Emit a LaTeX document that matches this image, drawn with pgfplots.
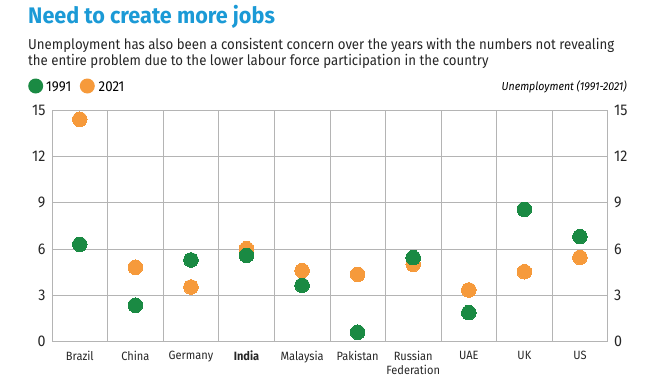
\documentclass[border=0pt]{standalone}
\usepackage{pgfplots}
\pgfplotsset{compat=1.18}
\usepackage{fontspec}
\setmainfont{Fira Sans}[FakeStretch=0.92]
\newfontfamily\titlefont{Fira Sans}[FakeStretch=0.96]
\definecolor{tblue}{HTML}{1B9AD6}
\definecolor{cgreen}{HTML}{1A8A43}
\definecolor{corange}{HTML}{F69A3B}
\definecolor{gridc}{HTML}{B4B4B4}
\begin{document}
\begin{tikzpicture}[x=1bp,y=1bp]
\path[use as bounding box] (0,0) rectangle (660,383);
% title and subtitle
\node[anchor=base west,inner sep=0,text=tblue,font=\fontsize{22.5bp}{26bp}\titlefont\bfseries] at (28,383-23) {Need to create more jobs};
\node[anchor=base west,inner sep=0,text=black!85,font=\fontsize{14.4bp}{16bp}\selectfont] at (28,383-49.5) {Unemployment has also been a consistent concern over the years with the numbers not revealing};
\node[anchor=base west,inner sep=0,text=black!85,font=\fontsize{14.4bp}{16bp}\selectfont] at (28,383-65.5) {the entire problem due to the lower labour force participation in the country};
% legend
\fill[cgreen] (35.7,383-86) circle (7.5);
\node[anchor=base west,inner sep=0,font=\fontsize{14.4bp}{15bp}\selectfont] at (46,383-91) {1991};
\fill[corange] (87.3,383-86) circle (7.5);
\node[anchor=base west,inner sep=0,font=\fontsize{14.4bp}{15bp}\selectfont] at (98.5,383-91) {2021};
\node[anchor=base east,inner sep=0,font=\fontsize{11.5bp}{14bp}\selectfont\itshape] at (627,383-90.7) {Unemployment (1991-2021)};
\begin{axis}[
  at={(52bp,41.3bp)}, anchor=south west, scale only axis,
  width=555.7bp, height=231.7bp,
  xmin=0, xmax=10, ymin=0, ymax=15,
  xtick={0.5,1.5,...,9.5},
  xticklabels={Brazil,China,Germany,\textbf{India},Malaysia,Pakistan,{Russian\\Federation},UAE,UK,US},
  minor xtick={1,2,...,9},
  xminorgrids, ymajorgrids,
  ytick={0,3,...,15},
  major tick length=0, minor tick length=0,
  axis line style={gridc, line width=0.6bp},
  grid style={gridc, line width=0.6bp},
  minor grid style={gridc, line width=0.6bp},
  xticklabel style={font=\fontsize{12bp}{14bp}\selectfont, align=center, text=black!85, yshift=-6bp},
  yticklabel style={font=\fontsize{15.5bp}{16bp}\selectfont, text=black!85, xshift=-3bp},
  /pgf/number format/assume math mode=true,
  clip=false,
]
\addplot[corange, only marks, mark=*, mark size=7.3bp, mark options={fill=corange, draw=corange, line width=0pt}] coordinates {
(0.5,14.4) (1.5,4.82) (2.5,3.54) (3.5,6.02) (4.5,4.6) (5.5,4.36) (6.5,5.01) (7.5,3.35) (8.5,4.53) (9.5,5.46)};
\addplot[cgreen, only marks, mark=*, mark size=7.3bp, mark options={fill=cgreen, draw=cgreen, line width=0pt}] coordinates {
(0.5,6.3) (1.5,2.36) (2.5,5.29) (3.5,5.59) (4.5,3.65) (5.5,0.61) (6.5,5.44) (7.5,1.88) (8.5,8.57) (9.5,6.8)};
\end{axis}
\begin{axis}[
  at={(52bp,41.3bp)}, anchor=south west, scale only axis,
  width=555.7bp, height=231.7bp,
  xmin=0, xmax=10, ymin=0, ymax=15,
  axis x line=none, axis y line*=right,
  y axis line style={draw=none},
  ytick={0,3,...,15},
  major tick length=0,
  yticklabel style={font=\fontsize{15.5bp}{16bp}\selectfont, text=black!85, xshift=3bp, anchor=west},
  /pgf/number format/assume math mode=true,
]
\addplot[draw=none] coordinates {(0,0)};
\end{axis}
\end{tikzpicture}
\end{document}
